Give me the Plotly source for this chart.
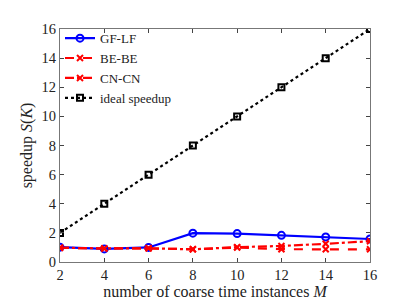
import plotly.graph_objects as go

M = [2, 4, 6, 8, 10, 12, 14, 16]
gf_lf = [1.02, 0.9, 1.0, 1.98, 1.95, 1.83, 1.72, 1.58]
be_be = [0.98, 0.93, 0.94, 0.87, 0.99, 0.88, 0.87, 0.87]
cn_cn = [0.98, 0.93, 0.94, 0.87, 1.02, 1.1, 1.25, 1.43]
ideal = [2, 4, 6, 8, 10, 12, 14, 16]

xticks = [2, 4, 6, 8, 10, 12, 14, 16]
yticks = [0, 2, 4, 6, 8, 10, 12, 14, 16]

font = "Liberation Serif"

fig = go.Figure()
fig.add_trace(go.Scatter(x=M, y=gf_lf, name="GF-LF", mode="lines+markers",
                         line=dict(color="#0000ff", width=2.2),
                         marker=dict(symbol="circle-open", size=7, line=dict(width=2, color="#0000ff"))))
fig.add_trace(go.Scatter(x=M, y=be_be, name="BE-BE", mode="lines+markers",
                         line=dict(color="#ff0000", width=2.2, dash="dash"),
                         marker=dict(symbol="x-thin-open", size=6, line=dict(width=2, color="#ff0000"))))
fig.add_trace(go.Scatter(x=M, y=cn_cn, name="CN-CN", mode="lines+markers",
                         line=dict(color="#ff0000", width=2.2, dash="dashdot"),
                         marker=dict(symbol="x-thin-open", size=6, line=dict(width=2, color="#ff0000"))))
fig.add_trace(go.Scatter(x=M, y=ideal, name="ideal speedup", mode="lines+markers",
                         line=dict(color="#000000", width=2.2, dash="dot"),
                         marker=dict(symbol="square-open", size=6, line=dict(width=2, color="#000000"))))

axis_common = dict(showgrid=False, zeroline=False, ticks="inside", ticklen=4,
                   tickcolor="#444", linecolor="#777", linewidth=1, mirror="allticks",
                   showline=True, tickfont=dict(family=font, size=14.5, color="#222"))

fig.update_layout(
    width=399, height=299,
    margin=dict(l=52, r=37, t=21, b=38),
    plot_bgcolor="white", paper_bgcolor="white",
    font=dict(family=font, size=14, color="#222"),
    xaxis=dict(range=[2, 16], tickvals=xticks,
               title=dict(text="number of coarse time instances <i>M</i>", font=dict(family=font, size=16), standoff=0),
               **axis_common),
    yaxis=dict(range=[0, 16], tickvals=yticks,
               title=dict(text="speedup <i>S</i>(<i>K</i>)", font=dict(family=font, size=16), standoff=4),
               **axis_common),
    legend=dict(x=0.0, y=1.025, xanchor="left", yanchor="top", bgcolor="rgba(255,255,255,0)",
                font=dict(family=font, size=13), itemwidth=30, tracegroupgap=0,
                borderwidth=0),
    showlegend=True,
)

fig.write_html("out.html")
